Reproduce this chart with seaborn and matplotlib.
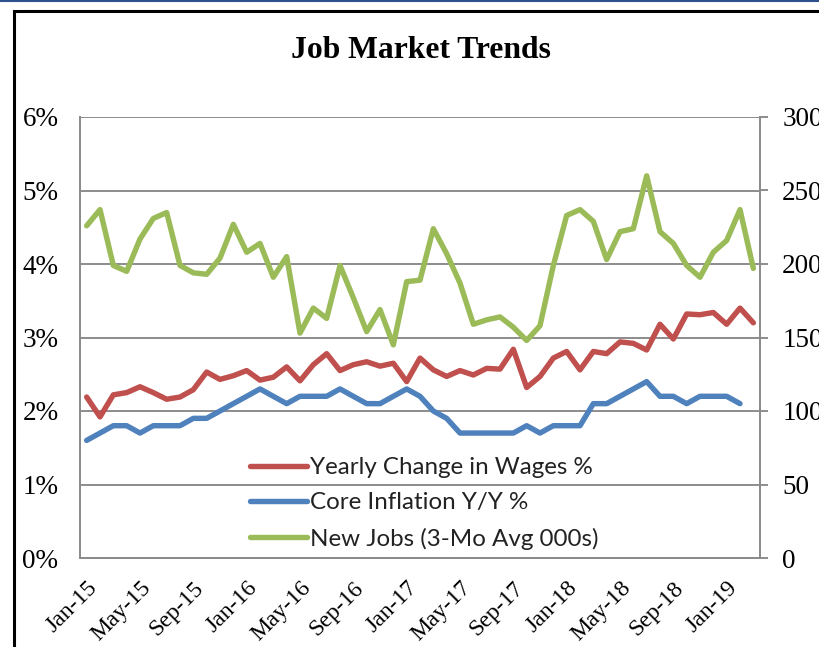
import numpy as np
import pandas as pd
import matplotlib.pyplot as plt
import seaborn as sns
from matplotlib.lines import Line2D
from matplotlib.patches import Rectangle
from matplotlib.transforms import ScaledTranslation

# monthly categories Jan-15 .. Mar-19
months = pd.date_range('2015-01-01', '2019-03-01', freq='MS').strftime('%b-%y').tolist()
tick_labels = ['Jan-15', 'May-15', 'Sep-15', 'Jan-16', 'May-16', 'Sep-16', 'Jan-17',
               'May-17', 'Sep-17', 'Jan-18', 'May-18', 'Sep-18', 'Jan-19']

wages = [2.19, 1.92, 2.22, 2.25, 2.33, 2.25, 2.16, 2.19, 2.29, 2.53, 2.43, 2.48, 2.55,
         2.42, 2.46, 2.60, 2.41, 2.63, 2.78, 2.55, 2.63, 2.67, 2.61, 2.65, 2.40, 2.72,
         2.56, 2.47, 2.55, 2.49, 2.58, 2.57, 2.84, 2.32, 2.47, 2.72, 2.81, 2.56, 2.81,
         2.78, 2.94, 2.92, 2.83, 3.18, 2.98, 3.32, 3.31, 3.34, 3.18, 3.40, 3.20]
core = [1.6, 1.7, 1.8, 1.8, 1.7, 1.8, 1.8, 1.8, 1.9, 1.9, 2.0, 2.1, 2.2, 2.3, 2.2, 2.1,
        2.2, 2.2, 2.2, 2.3, 2.2, 2.1, 2.1, 2.2, 2.3, 2.2, 2.0, 1.9, 1.7, 1.7, 1.7, 1.7,
        1.7, 1.8, 1.7, 1.8, 1.8, 1.8, 2.1, 2.1, 2.2, 2.3, 2.4, 2.2, 2.2, 2.1, 2.2, 2.2,
        2.2, 2.1, np.nan]
jobs = [226, 237, 199, 195, 217, 231, 235, 199, 194, 193, 204, 227, 208, 214, 191, 205,
        153, 170, 163, 199, 177, 154, 169, 145, 188, 189, 224, 207, 187, 159, 162, 164,
        157, 148, 158, 199, 233, 237, 229, 203, 222, 224, 260, 222, 214, 199, 191, 208,
        216, 237, 197]

df = pd.DataFrame({'month': months, 'wages': wages, 'core': core, 'jobs': jobs})
df['pos'] = np.arange(len(df))

sns.set_style('white')
plt.rcParams['font.family'] = ['Liberation Serif', 'DejaVu Serif']
plt.rcParams['text.color'] = 'black'
plt.rcParams['xtick.color'] = 'black'
plt.rcParams['ytick.color'] = 'black'

RED, BLUE, GREEN = '#C0504D', '#4F81BD', '#9BBB59'
GRID = '#8C8C8C'

fig = plt.figure(figsize=(8.19, 6.47), dpi=100)
ax = fig.add_axes([80 / 819, 1 - 558 / 647, 680 / 819, 441 / 647])
ax2 = ax.twinx()

line_kw = dict(linewidth=3.9, solid_capstyle='round', solid_joinstyle='round')
sns.lineplot(data=df, x='pos', y='wages', ax=ax, color=RED, label='Yearly Change in Wages %', **line_kw)
sns.lineplot(data=df, x='pos', y='core', ax=ax, color=BLUE, label='Core Inflation Y/Y %', **line_kw)
sns.lineplot(data=df, x='pos', y='jobs', ax=ax2, color=GREEN, label='New Jobs (3-Mo Avg 000s)', **line_kw)

ax.set_xlim(-0.5, len(df) - 0.5)
ax.set_ylim(0, 6)
ax2.set_ylim(0, 300)
ax.set_yticks(range(0, 7))
ax.set_yticklabels([f'{v}%' for v in range(0, 7)])
ax2.set_yticks(range(0, 301, 50))
ax.set_xticks([months.index(t) for t in tick_labels])
ax.set_xticklabels(tick_labels, rotation=45, ha='right', rotation_mode='anchor')
shift = ScaledTranslation(3 / 100, 0, fig.dpi_scale_trans)
for lab in ax.get_xticklabels():
    lab.set_transform(lab.get_transform() + shift)
ax.set_xlabel('')
ax.set_ylabel('')
ax2.set_ylabel('')

ax.yaxis.grid(True, color=GRID, linewidth=1.4)
ax.set_axisbelow(True)
for a in (ax, ax2):
    a.spines['top'].set_visible(False)
    for s in ('left', 'bottom', 'right'):
        a.spines[s].set_color(GRID)
        a.spines[s].set_linewidth(1.4)
ax.tick_params(axis='y', length=0, pad=15.5, labelsize=19.5)
ax.tick_params(axis='x', length=0, pad=14, labelsize=17)
ax2.tick_params(axis='y', length=6, width=1.4, color=GRID, direction='out', pad=10,
                labelsize=19.5, labelcolor='black')

h1, l1 = ax.get_legend_handles_labels()
h2, l2 = ax2.get_legend_handles_labels()
ax.get_legend().remove()
ax2.get_legend().remove()
leg = ax2.legend(h1 + h2, l1 + l2, loc='upper left', bbox_to_anchor=(250 / 819, 1 - 457 / 647),
                 bbox_transform=fig.transFigure, frameon=False, borderpad=0, borderaxespad=0,
                 handlelength=2.35, handletextpad=0.12, labelspacing=0.59,
                 prop={'family': 'Lato', 'size': 17.4})
for t in leg.get_texts():
    t.set_color('#222222')

fig.text(421 / 819, 1 - 50 / 647, 'Job Market Trends', ha='center', va='center',
         fontsize=22.8, fontweight='bold')

# outer chart frame and top screen edge
fig.add_artist(Rectangle((14 / 819, -0.2), 2, 1.2 - 11 / 647, transform=fig.transFigure,
                         fill=False, edgecolor='black', linewidth=2.2))
fig.add_artist(Line2D([0, 1], [1 - 1 / 647, 1 - 1 / 647], transform=fig.transFigure,
                      color='#2F528F', linewidth=1.5))

fig.savefig('out.png', dpi=100)
